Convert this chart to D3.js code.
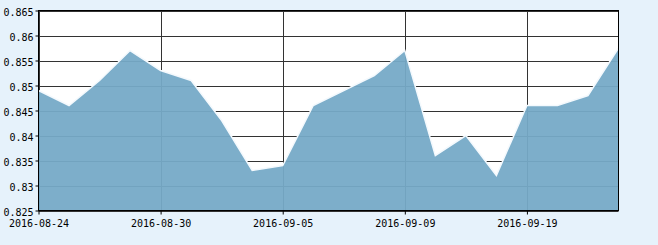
<!DOCTYPE html>
<html><head><meta charset="utf-8">
<script src="https://cdn.jsdelivr.net/npm/d3@7/dist/d3.min.js"></script>
<style>
html,body{margin:0;padding:0;background:#e6f2fb;}
svg{display:block;}
text{font-family:"DejaVu Sans Mono","Liberation Mono",monospace;font-size:10px;fill:#000;}
</style></head><body>
<svg id="c" width="658" height="245"></svg>
<script>
const categories = ["2016-08-24","2016-08-25","2016-08-26","2016-08-29","2016-08-30","2016-08-31","2016-09-01","2016-09-02","2016-09-05","2016-09-06","2016-09-07","2016-09-08","2016-09-09","2016-09-12","2016-09-13","2016-09-14","2016-09-19","2016-09-20","2016-09-21","2016-09-22"];
const values = [0.849,0.846,0.851,0.857,0.853,0.851,0.843,0.833,0.834,0.846,0.849,0.852,0.857,0.836,0.840,0.832,0.846,0.846,0.848,0.8575];
const xTickLabels = ["2016-08-24","2016-08-30","2016-09-05","2016-09-09","2016-09-19"];
const yTicks = [0.825,0.83,0.835,0.84,0.845,0.85,0.855,0.86,0.865];

const svg = d3.select("#c");
const L = 38.5, R = 618.5, T = 10.5, B = 210.5;
const x = d3.scalePoint().domain(categories).range([L, R]);
const y = d3.scaleLinear().domain([0.825, 0.865]).range([B, T]);

svg.append("rect").attr("x", L).attr("y", T).attr("width", R - L).attr("height", B - T).attr("fill", "#fff");

const g = svg.append("g");
g.selectAll("line.h").data(yTicks).enter().append("line")
  .attr("x1", L).attr("x2", R).attr("y1", d => Math.round(y(d)) + 0.5).attr("y2", d => Math.round(y(d)) + 0.5)
  .attr("stroke", "#333").attr("stroke-width", 1);
g.selectAll("line.v").data(xTickLabels).enter().append("line")
  .attr("x1", d => Math.round(x(d)) + 0.5).attr("x2", d => Math.round(x(d)) + 0.5).attr("y1", T).attr("y2", B)
  .attr("stroke", "#333").attr("stroke-width", 1);

const area = d3.area().x((d, i) => x(categories[i])).y0(B).y1(d => y(d));
svg.append("path").datum(values).attr("d", area).attr("fill", "#76aac7").attr("fill-opacity", 0.95);
const line = d3.line().x((d, i) => x(categories[i])).y(d => y(d));
svg.append("path").datum(values).attr("d", line).attr("fill", "none").attr("stroke", "#f4f9fd").attr("stroke-width", 1.5);

svg.append("rect").attr("x", L).attr("y", T).attr("width", R - L).attr("height", B - T).attr("fill", "none").attr("stroke", "#000");

const yAxis = d3.axisLeft(y).tickValues(yTicks).tickSize(3).tickPadding(2).tickFormat(d => d3.format("")(+d.toFixed(3)));
const ya = svg.append("g").attr("transform", `translate(${L},0)`).call(yAxis);
ya.select(".domain").remove();
ya.selectAll("line").attr("stroke", "#000");
ya.selectAll("text").attr("font-family", null).attr("font-size", null).attr("dy", "0.45em");

const xAxis = d3.axisBottom(x).tickValues(xTickLabels).tickSize(4).tickPadding(5);
const xa = svg.append("g").attr("transform", `translate(0,${B})`).call(xAxis);
xa.select(".domain").remove();
xa.selectAll("line").attr("stroke", "#000");
xa.selectAll("text").attr("font-family", null).attr("font-size", null);
</script>
</body></html>
